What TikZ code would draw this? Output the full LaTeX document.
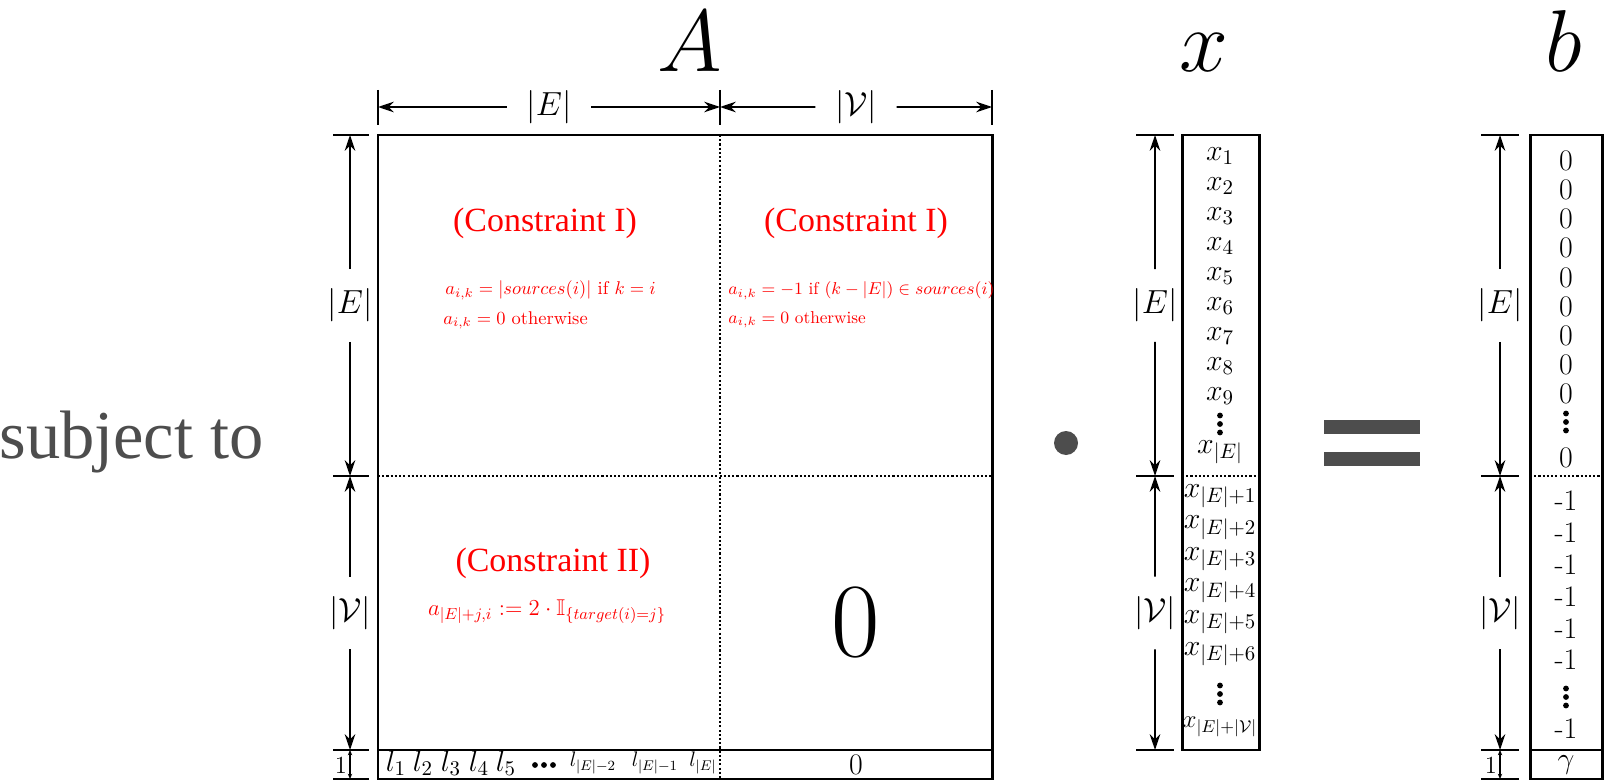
\documentclass[tikz,border=0pt]{standalone}
\usepackage{fix-cm}
\usepackage{fontspec}
\usepackage{amsmath,amssymb}
\usetikzlibrary{arrows.meta,calc}
\newfontfamily\timesfont{Liberation Serif}
\definecolor{redhl}{HTML}{FF0000}
\definecolor{greyhl}{HTML}{4D4D4D}
\newcommand{\fsz}[1]{\fontsize{#1}{#1}\selectfont}
\newcommand{\bigvdots}[2]{\foreach \k in {-1,0,1} \fill (#1,{#2+8.5*\k}) circle (2.9);}
\tikzset{
  frame/.style={line width=1.7pt},
  divider/.style={line width=1.1pt, dash pattern=on 1.2pt off 1.2pt},
  tick/.style={line width=1.2pt},
  dimline/.style={line width=0.9pt, -{Stealth[length=9pt, width=6pt]}},
  unitline/.style={line width=0.7pt, {Stealth[length=3pt, width=2.5pt]}-{Stealth[length=3pt, width=2.5pt]}},
  dimlabel/.style={font=\fsz{19}, inner sep=11pt},
  entry/.style={font=\fsz{17}, inner sep=0pt},
  redtitle/.style={text=redhl, font=\timesfont\fsz{19.3}, inner sep=0pt},
  redmath/.style={text=redhl, font=\fsz{10.5}, inner sep=0pt},
  bigsym/.style={font=\fsz{50}, inner sep=0pt}
}

\begin{document}
\begin{tikzpicture}[x=0.02cm, y=-0.02cm]
  \useasboundingbox (0,0) rectangle (1607,784);

  % left text
  \node[anchor=base west, inner sep=0pt, text=greyhl, font=\timesfont\fsz{39}] (subj) at (-1,458) {subject to};

  % titles
  \node[bigsym, anchor=base] (tA) at (690,72) {$A$};
  \node[bigsym, anchor=base] (tx) at (1204,72) {$x$};
  \node[bigsym, anchor=base] (tb) at (1564,72) {$b$};

  % matrix A
  \draw[frame] (378,135) rectangle (992,779);
  \draw[frame] (378,750) -- (992,750);
  \draw[divider] (378,476) -- (992,476);
  \draw[divider] (720,135) -- (720,779);

  % top dimensions
  \foreach \xx in {378,720,992} \draw[tick] (\xx,90) -- (\xx,125);
  \coordinate (t1) at (378,107);
  \coordinate (t2) at (720,107);
  \coordinate (t3) at (992,107);
  \node[dimlabel] (tE) at ($(t1)!0.5!(t2)$) {$|E|$};
  \node[dimlabel] (tV) at ($(t2)!0.5!(t3)$) {$|\mathcal{V}|$};
  \draw[dimline] (tE) -- (t1);
  \draw[dimline] (tE) -- (t2);
  \draw[dimline] (tV) -- (t2);
  \draw[dimline] (tV) -- (t3);

  % side dimensions
  \foreach \ax/\tl/\tr/\nm in {350/333/369/a, 1155/1136/1174/x, 1500/1481/1519/b} {
    \foreach \yy in {135,476,750} \draw[tick] (\tl,\yy) -- (\tr,\yy);
    \coordinate (\nm1) at (\ax,135);
    \coordinate (\nm2) at (\ax,476);
    \coordinate (\nm3) at (\ax,750);
    \node[dimlabel] (\nm E) at ($(\nm1)!0.5!(\nm2)$) {$|E|$};
    \node[dimlabel] (\nm V) at ($(\nm2)!0.5!(\nm3)$) {$|\mathcal{V}|$};
    \draw[dimline] (\nm E) -- (\nm1);
    \draw[dimline] (\nm E) -- (\nm2);
    \draw[dimline] (\nm V) -- (\nm2);
    \draw[dimline] (\nm V) -- (\nm3);
  }
  % unit rows
  \foreach \ax/\tl/\tr/\nm in {350/333/369/a, 1500/1481/1519/b} {
    \draw[tick] (\tl,779) -- (\tr,779);
    \coordinate (\nm4) at (\ax,779);
    \draw[unitline] (\nm3) -- (\nm4);
    \node[font=\fsz{14}, inner sep=0pt] (\nm one) at (\ax-9,765) {1};
  }

  % cell contents
  \node[redtitle] (ct1) at (545,223) {(Constraint I)};
  \node[redtitle] (ct2) at (856,223) {(Constraint I)};
  \node[redmath, anchor=base west] (f1) at (445,295) {$a_{i,k} = |sources(i)|$ if $k=i$};
  \node[redmath, anchor=base west] (f2) at (443,324) {$a_{i,k} = 0$ otherwise};
  \node[redmath, font=\fsz{9.8}, anchor=base west] (f3) at (728,295) {$a_{i,k} = -1$ if $(k-|E|) \in sources(i)$};
  \node[redmath, font=\fsz{9.8}, anchor=base west] (f4) at (728,323) {$a_{i,k} = 0$ otherwise};
  \node[redtitle] (ct3) at (553,563) {(Constraint II)};
  \node[redmath, font=\fsz{13}, anchor=base] (f5) at (547,615) {$a_{|E|+j,i} := 2\cdot\mathbb{I}_{\{target(i)=j\}}$};
  \node[font=\fsz{60}, inner sep=0pt] (zero) at (856,622) {0};

  % bottom row of A
  \foreach \xx/\i in {396/1,423/2,451/3,479/4,506/5}
    \node[entry] (l\i) at (\xx,763) {$l_{\i}$};
  \foreach \k in {-1,0,1} \fill (544+9*\k,765) circle (2.9);
  \node[entry, font=\fsz{12}] (lm2) at (593,763) {$l_{|E|-2}$};
  \node[entry, font=\fsz{12}] (lm1) at (655,763) {$l_{|E|-1}$};
  \node[entry, font=\fsz{12}] (lE) at (703,763) {$l_{|E|}$};
  \node[entry] (lz) at (856,765) {0};

  % vector x
  \draw[frame] (1182,135) rectangle (1259,750);
  \draw[divider] (1182,476) -- (1259,476);
  \foreach \i in {1,...,9}
    \node[entry] (x\i) at (1220,{156+(\i-1)*30}) {$x_{\i}$};
  \bigvdots{1220}{424}
  \node[entry] (xE) at (1220,452) {$x_{|E|}$};
  \foreach \i [count=\k from 0] in {1,...,6}
    \node[entry] (xE\i) at (1220,{496+\k*31.6}) {$x_{|E|+\i}$};
  \bigvdots{1220}{694}
  \node[entry, font=\fsz{14}] (xEV) at (1220,727) {$x_{|E|+|\mathcal{V}|}$};

  % vector b
  \draw[frame] (1530,135) rectangle (1602,779);
  \draw[frame] (1530,750) -- (1602,750);
  \draw[divider] (1530,476) -- (1602,476);
  \foreach \k in {0,...,8}
    \node[entry] (b\k) at (1566,{161+\k*29.1}) {0};
  \bigvdots{1566}{422}
  \node[entry] (bE) at (1566,458) {0};
  \foreach \k in {0,...,5}
    \node[entry] (bm\k) at (1566,{501+\k*31.8}) {-1};
  \bigvdots{1566}{697}
  \node[entry] (bV) at (1566,729) {-1};
  \node[entry] (bg) at (1566,765) {$\gamma$};

  % operators
  \fill[greyhl] (1066,443) circle (12);
  \fill[greyhl] (1324,420) rectangle (1420,434);
  \fill[greyhl] (1324,452) rectangle (1420,466);
\end{tikzpicture}
\end{document}
